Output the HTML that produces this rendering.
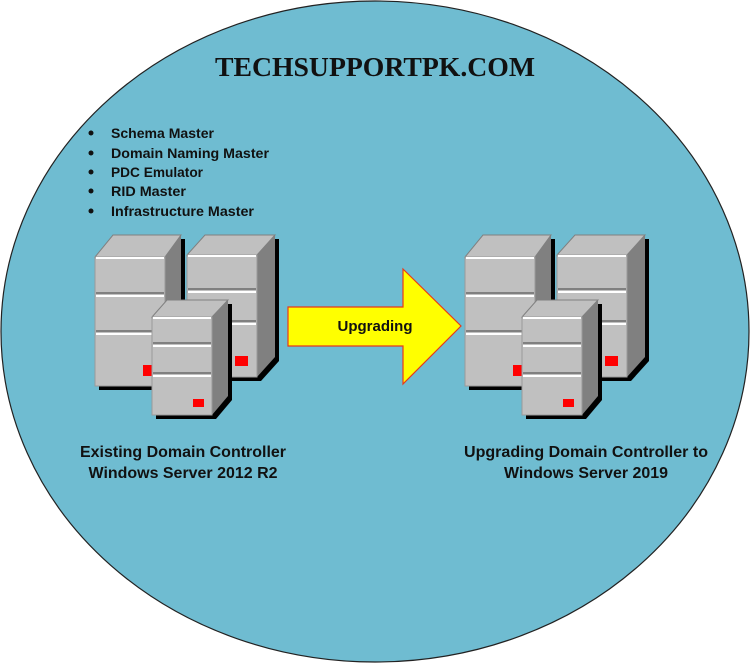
<!DOCTYPE html>
<html><head><meta charset="utf-8"><style>
html,body{margin:0;padding:0;background:#fff;}
svg{display:block;}
</style></head><body>
<svg width="750" height="663" viewBox="0 0 750 663" xmlns="http://www.w3.org/2000/svg">
<defs>
<g id="srvA">
 <polygon points="99,261 117,239 185,239 185,370 169,390 99,390" fill="#000"/>
 <polygon points="95,257 113,235 181,235 165,257" fill="#c0c0c0" stroke="#808080"/>
 <polygon points="165,257 181,235 181,366 165,386" fill="#808080"/>
 <rect x="95" y="257" width="70" height="129" fill="#c0c0c0" stroke="#9a9a9a"/>
 <line x1="96" y1="258" x2="164" y2="258" stroke="#fff" stroke-width="2"/>
 <line x1="96" y1="293" x2="164" y2="293" stroke="#808080" stroke-width="2"/>
 <line x1="96" y1="296" x2="164" y2="296" stroke="#fff" stroke-width="2"/>
 <line x1="96" y1="331" x2="164" y2="331" stroke="#808080" stroke-width="2"/>
 <line x1="96" y1="334" x2="164" y2="334" stroke="#fff" stroke-width="2"/>
 <rect x="143" y="365" width="11" height="11" fill="#f00"/>
</g>
<g id="srvB">
 <polygon points="191,259 209,239 279,239 279,361 261,381 191,381" fill="#000"/>
 <polygon points="187,255 205,235 275,235 257,255" fill="#c0c0c0" stroke="#808080"/>
 <polygon points="257,255 275,235 275,357 257,377" fill="#808080"/>
 <rect x="187" y="255" width="70" height="122" fill="#c0c0c0" stroke="#9a9a9a"/>
 <line x1="188" y1="256" x2="256" y2="256" stroke="#fff" stroke-width="2"/>
 <line x1="188" y1="289" x2="256" y2="289" stroke="#808080" stroke-width="2"/>
 <line x1="188" y1="292" x2="256" y2="292" stroke="#fff" stroke-width="2"/>
 <line x1="188" y1="321" x2="256" y2="321" stroke="#808080" stroke-width="2"/>
 <line x1="188" y1="324" x2="256" y2="324" stroke="#fff" stroke-width="2"/>
 <rect x="235" y="356" width="13" height="10" fill="#f00"/>
</g>
<g id="srvC">
 <polygon points="156,321 171,304 232,304 232,400 216,419 156,419" fill="#000"/>
 <polygon points="152,317 167,300 228,300 212,317" fill="#c0c0c0" stroke="#808080"/>
 <polygon points="212,317 228,300 228,396 212,415" fill="#808080"/>
 <rect x="152" y="317" width="60" height="98" fill="#c0c0c0" stroke="#9a9a9a"/>
 <line x1="153" y1="318" x2="211" y2="318" stroke="#fff" stroke-width="2"/>
 <line x1="153" y1="343" x2="211" y2="343" stroke="#808080" stroke-width="2"/>
 <line x1="153" y1="346" x2="211" y2="346" stroke="#fff" stroke-width="2"/>
 <line x1="153" y1="373" x2="211" y2="373" stroke="#808080" stroke-width="2"/>
 <line x1="153" y1="376" x2="211" y2="376" stroke="#fff" stroke-width="2"/>
 <rect x="193" y="399" width="11" height="8" fill="#f00"/>
</g>
<g id="cluster"><use href="#srvA"/><use href="#srvB"/><use href="#srvC"/></g>
</defs>
<ellipse cx="375" cy="331.5" rx="374" ry="330.5" fill="#6fbcd1" stroke="#222" stroke-width="1.2"/>
<text x="375" y="76" text-anchor="middle" font-family="'Liberation Serif',serif" font-size="27" font-weight="bold" fill="#111" textLength="320" lengthAdjust="spacingAndGlyphs">TECHSUPPORTPK.COM</text>
<g font-family="'Liberation Sans',sans-serif" font-size="13.5" font-weight="bold" fill="#111">
 <circle cx="91" cy="133" r="2.5"/><text x="111" y="138" textLength="103" lengthAdjust="spacingAndGlyphs">Schema Master</text>
 <circle cx="91" cy="153" r="2.5"/><text x="111" y="158" textLength="158" lengthAdjust="spacingAndGlyphs">Domain Naming Master</text>
 <circle cx="91" cy="172" r="2.5"/><text x="111" y="177" textLength="92" lengthAdjust="spacingAndGlyphs">PDC Emulator</text>
 <circle cx="91" cy="191" r="2.5"/><text x="111" y="196" textLength="75" lengthAdjust="spacingAndGlyphs">RID Master</text>
 <circle cx="91" cy="211" r="2.5"/><text x="111" y="216" textLength="143" lengthAdjust="spacingAndGlyphs">Infrastructure Master</text>
</g>
<use href="#cluster"/>
<use href="#cluster" transform="translate(370,0)"/>
<polygon points="288,307 403,307 403,269 461,326 403,384 403,346 288,346" fill="#ffff00" stroke="#e83a1a" stroke-width="1.2"/>
<text x="375" y="331" text-anchor="middle" font-family="'Liberation Sans',sans-serif" font-size="15" font-weight="bold" fill="#111">Upgrading</text>
<g font-family="'Liberation Sans',sans-serif" font-size="16" font-weight="bold" fill="#111" text-anchor="middle">
 <text x="183" y="457" textLength="206" lengthAdjust="spacingAndGlyphs">Existing Domain Controller</text>
 <text x="183" y="478" textLength="189" lengthAdjust="spacingAndGlyphs">Windows Server 2012 R2</text>
 <text x="586" y="457" textLength="244" lengthAdjust="spacingAndGlyphs">Upgrading Domain Controller to</text>
 <text x="586" y="478" textLength="164" lengthAdjust="spacingAndGlyphs">Windows Server 2019</text>
</g>
</svg>
</body></html>
